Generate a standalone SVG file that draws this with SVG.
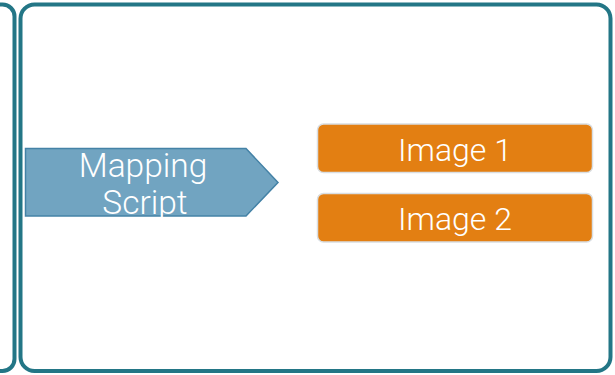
<svg xmlns="http://www.w3.org/2000/svg" width="615" height="375" viewBox="0 0 615 375">
<style>
.panel{fill:#ffffff;stroke:#237686;stroke-width:4}
.img{fill:#e37f12;stroke:#d9dee2;stroke-width:1.5}
.lbl{font-family:Roboto,"Liberation Sans",sans-serif;font-weight:300;fill:#ffffff;text-anchor:middle}
</style>
<rect width="615" height="375" fill="#ffffff"/>
<g id="left-panel">
<rect class="panel" x="-60" y="4.5" width="74.5" height="366.5" rx="12"/>
</g>
<g id="right-panel">
<rect class="panel" x="20.5" y="4.5" width="590" height="366.5" rx="14"/>
</g>
<g id="connectors"></g>
<g id="mapping-script">
<polygon points="25.5,148.5 246,148.5 278,182.5 246,216 25.5,216" fill="#71a4c1" stroke="#4482a6" stroke-width="1.5"/>
<text class="lbl" x="143" y="177" font-size="33.5">Mapping</text>
<text class="lbl" x="145" y="213.5" font-size="33.5">Script</text>
</g>
<g id="image1">
<rect class="img" x="317.5" y="124" width="275" height="48.5" rx="6"/>
<text class="lbl" x="455" y="161" font-size="32">Image 1</text>
</g>
<g id="image2">
<rect class="img" x="317.5" y="193.5" width="275" height="48.5" rx="6"/>
<text class="lbl" x="455" y="230" font-size="32">Image 2</text>
</g>
</svg>
